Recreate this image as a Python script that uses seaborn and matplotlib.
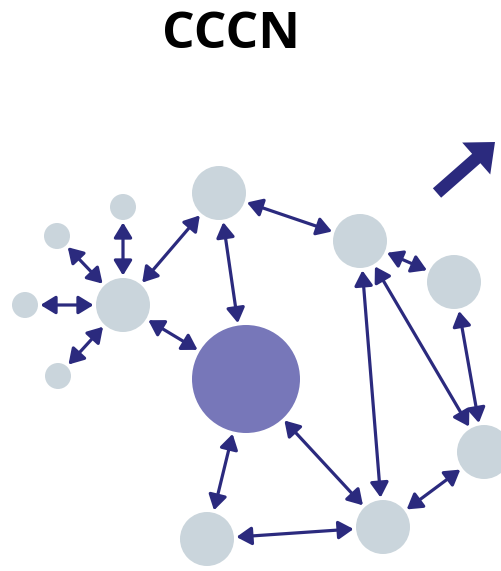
import numpy as np
import pandas as pd
import seaborn as sns
from matplotlib import pyplot as plt

# node layout (pixel coords of the 502x571 picture, y down)
node_names = ["hub", "s_top", "s_ul", "s_left", "s_ll", "A", "big", "B", "C", "D", "E", "F"]
node_x = [123, 123, 57, 25, 58, 219, 246, 360, 454, 484, 383, 207]
node_y = [305, 207, 236, 305, 376, 193, 379, 241, 282, 452, 527, 539]
node_r = [27, 13, 13, 13, 13, 27, 54, 27, 27, 27, 27, 27]
node_kind = ["peer"] * 6 + ["core"] + ["peer"] * 5

edges = [("hub", "s_top"), ("hub", "s_ul"), ("hub", "s_left"), ("hub", "s_ll"),
         ("hub", "A"), ("hub", "big"), ("A", "big"), ("A", "B"), ("B", "C"),
         ("B", "E"), ("B", "D"), ("C", "D"), ("D", "E"), ("E", "F"),
         ("F", "big"), ("big", "E")]

W, H = 502, 571
DPI = 100
PT = 72 / DPI  # points per pixel
EDGE = "#2b2a7e"

df = pd.DataFrame({"x": node_x, "y": node_y, "r": node_r, "kind": node_kind}, index=node_names)

sns.set_style("white")
fig = plt.figure(figsize=(W / DPI, H / DPI), dpi=DPI)
ax = fig.add_axes([0, 0, 1, 1])
ax.set_xlim(0, W)
ax.set_ylim(H, 0)
ax.axis("off")

sizes = {r: (2 * r * PT) ** 2 for r in set(node_r)}
sns.scatterplot(data=df, x="x", y="y", hue="kind", size="r", sizes=sizes,
                palette={"peer": "#cad5dc", "core": "#7777b9"},
                linewidth=0, legend=False, ax=ax, zorder=2)

for a, b in edges:
    pa, pb = df.loc[a], df.loc[b]
    ax.annotate("", xy=(pb.x, pb.y), xytext=(pa.x, pa.y),
                arrowprops=dict(arrowstyle="<|-|>,head_length=0.9,head_width=0.55",
                                mutation_scale=10, color=EDGE, lw=2.3,
                                shrinkA=(pa.r + 2.5) * PT, shrinkB=(pb.r + 2.5) * PT),
                zorder=3)

# growth arrow, top right
ax.annotate("", xy=(495, 142), xytext=(437, 193),
            arrowprops=dict(arrowstyle="simple,head_length=1.0,head_width=1.7,tail_width=0.5",
                            mutation_scale=18, color=EDGE, lw=0, shrinkA=0, shrinkB=0))

fig.text(231 / W, 1 - 35 / H, "CCCN", ha="center", va="center", color="black",
         fontsize=37, fontweight="bold", family=["Open Sans", "DejaVu Sans"])

fig.savefig("out.png", dpi=DPI)
